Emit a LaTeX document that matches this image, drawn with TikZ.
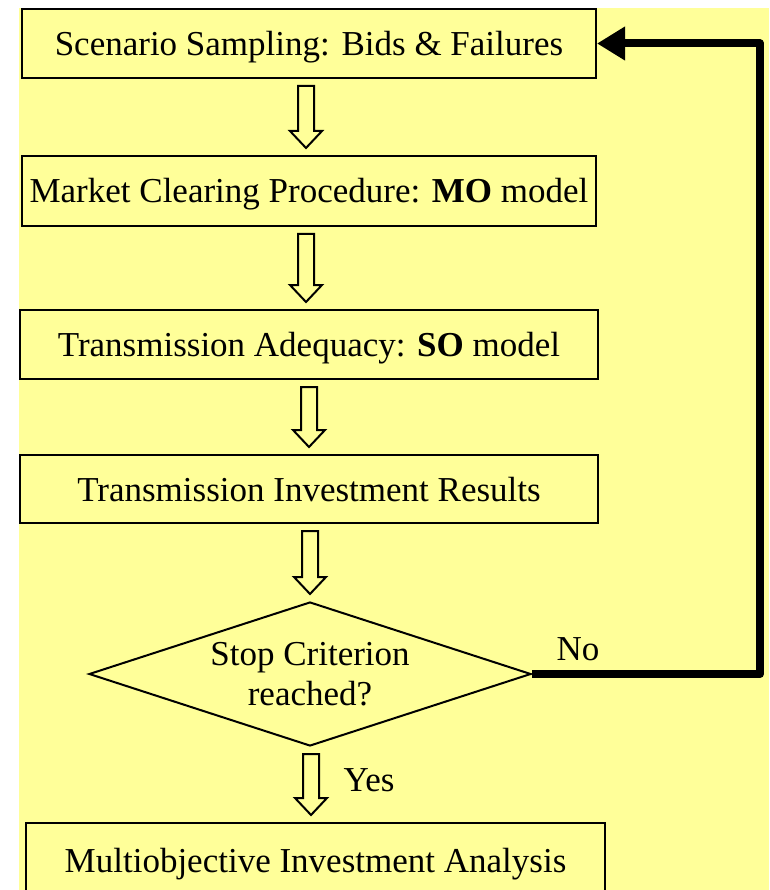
\documentclass[tikz,border=0pt]{standalone}
\usepackage{fontspec}
\setmainfont{Liberation Serif}
\usetikzlibrary{shapes.geometric,arrows.meta,calc}
\definecolor{bgyellow}{HTML}{FFFF99}
\tikzset{
  stepbox/.style={draw=black, line width=2pt, fill=bgyellow, inner sep=0pt,
    text height=24pt, text depth=0pt, font=\fontsize{35}{40}\selectfont},
  decision/.style={diamond, draw=black, line width=2pt, fill=bgyellow, inner sep=0pt,
    aspect=3.07, minimum width=442pt, minimum height=144pt, align=center,
    font=\fontsize{35}{40}\selectfont},
  lbl/.style={inner sep=0pt, font=\fontsize{35}{40}\selectfont},
  harr/.style={draw=black, line width=2pt, fill=bgyellow, line join=miter},
  feedback/.style={draw=black, line width=8pt, line join=round,
    -{Triangle[length=28pt,width=32pt]}}
}
\newcommand\harrow[3]{%
  \path let \p1=(#1.south), \p2=(#2.north) in
    [harr] (#3pt-8pt,\y1-7pt) -- (#3pt+8pt,\y1-7pt) -- (#3pt+8pt,\y2+24pt)
    -- (#3pt+16pt,\y2+24pt) -- (#3pt,\y2+7pt) -- (#3pt-16pt,\y2+24pt)
    -- (#3pt-8pt,\y2+24pt) -- cycle;}
\begin{document}
\begin{tikzpicture}[x=1pt,y=1pt]
\clip (0,0) rectangle (769,-890);
\fill[white] (0,0) rectangle (769,-890);
\fill[bgyellow] (19,-8) rectangle (769,-890);

\node[stepbox, minimum width=574pt, minimum height=69pt] (b1) at (309,-43.5) {Scenario Sampling: Bids \& Failures};
\node[stepbox, minimum width=574pt, minimum height=70pt] (b2) at (309,-191) {Market Clearing Procedure: \textbf{MO} model};
\node[stepbox, minimum width=578pt, minimum height=69pt] (b3) at (309,-344.5) {Transmission Adequacy: \textbf{SO} model};
\node[stepbox, minimum width=578pt, minimum height=68pt] (b4) at (309,-489) {Transmission Investment Results};
\node[decision] (d) at (310,-674) {Stop Criterion\\reached?};
\node[stepbox, minimum width=579pt, minimum height=74pt] (b5) at (315.5,-860) {Multiobjective Investment Analysis};

\harrow{b1}{b2}{306}
\harrow{b2}{b3}{306}
\harrow{b3}{b4}{309}
\harrow{b4}{d}{310}
\harrow{d}{b5}{311}

\node[lbl] (no) at (578,-649) {No};
\node[lbl] (yes) at (369,-780) {Yes};

\coordinate (corner) at (760,-300);
\draw[feedback] (d.east) -| (corner) |- (b1.east);
\end{tikzpicture}
\end{document}
